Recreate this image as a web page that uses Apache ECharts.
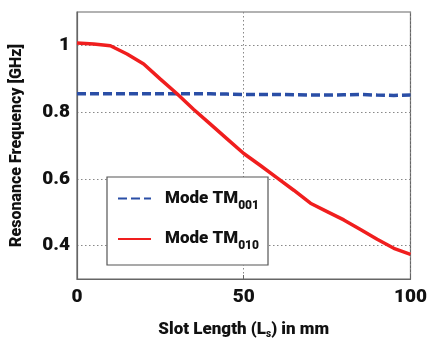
<!DOCTYPE html>
<html><head><meta charset="utf-8">
<script src="https://cdn.jsdelivr.net/npm/echarts@6/dist/echarts.min.js"></script>
<style>html,body{margin:0;padding:0;background:#fff}#c{width:430px;height:344px}</style>
</head><body><div id="c"></div>
<script>
const slotLength = [0,5,10,15,20,25,30,35,40,45,50,55,60,65,70,75,80,85,90,95,100];
const modeTM001 = [0.855,0.855,0.855,0.855,0.855,0.855,0.855,0.855,0.855,0.854,0.853,0.853,0.853,0.852,0.851,0.851,0.852,0.853,0.851,0.850,0.851];
const modeTM010 = [1.007,1.004,0.999,0.974,0.944,0.899,0.855,0.808,0.764,0.720,0.676,0.640,0.603,0.566,0.527,0.502,0.477,0.448,0.419,0.392,0.374];
const yTickLabels = ['0.4','0.6','0.8','1'];
const xTickLabels = ['0','50','100'];
const FONT = 'Roboto, "Liberation Sans", sans-serif';
const FW = 900;

const chart = echarts.init(document.getElementById('c'), null, {renderer:'canvas'});
chart.setOption({
  animation:false,
  backgroundColor:'#fff',
  grid:{left:77,right:10,top:12,bottom:57,show:true,borderColor:'#666',borderWidth:1.2,backgroundColor:'transparent'},
  legend:{
    orient:'vertical', left:107, top:177,
    padding:[13,9,13,10], itemGap:19,
    backgroundColor:'#fff', borderColor:'#555', borderWidth:1.2,
    itemWidth:33, itemHeight:14,
    itemStyle:{opacity:0},
    data:['Mode TM001','Mode TM010'],
    formatter: n => '{a|Mode TM}{b|' + n.slice(7) + '}',
    textStyle:{ rich:{
      a:{fontFamily:FONT,fontWeight:FW,fontSize:17,color:'#111',padding:[0,0,0,9]},
      b:{fontFamily:FONT,fontWeight:FW,fontSize:12,color:'#111',padding:[14,0,0,0]}
    }}
  },
  xAxis:{
    type:'value', min:0, max:100, interval:50,
    name:'Slot Length (L{s|s}) in mm', nameLocation:'middle', nameGap:42,
    nameTextStyle:{fontFamily:FONT,fontWeight:FW,fontSize:17,color:'#111',
      rich:{s:{fontFamily:FONT,fontWeight:FW,fontSize:10,color:'#111',padding:[8,0,0,0]}}},
    axisLine:{show:true,lineStyle:{color:'#666',width:1.2}},
    axisTick:{show:true,inside:true,length:4,lineStyle:{color:'#666'}},
    axisLabel:{fontFamily:FONT,fontWeight:FW,fontSize:19,color:'#111',margin:9,
      formatter:v=>xTickLabels[Math.round(v/50)]},
    splitLine:{show:true,lineStyle:{color:'#888',type:[1.5,2.5],width:1}}
  },
  yAxis:{
    type:'value', min:0.3, max:1.1, interval:0.1,
    name:'Resonance Frequency [GHz]', nameLocation:'middle', nameGap:52, nameRotate:90,
    nameTextStyle:{fontFamily:FONT,fontWeight:FW,fontSize:16,color:'#111'},
    axisLine:{show:true,lineStyle:{color:'#666',width:1.2}},
    axisTick:{show:false},
    axisLabel:{fontFamily:FONT,fontWeight:FW,fontSize:19,color:'#111',margin:7,
      formatter:v=>{const k=Math.round(v*10); return (k%2===0 && k>=4 && k<=10)? yTickLabels[(k-4)/2] : '';}},
    splitLine:{show:true,lineStyle:{color:['rgba(0,0,0,0)','#888'],type:[1.5,2.5],width:1}}
  },
  series:[
    {name:'Mode TM001',type:'line',symbol:'none',data:slotLength.map((x,i)=>[x,modeTM001[i]]),
     lineStyle:{color:'#2a4ea6',width:3.5,type:[9,4]},itemStyle:{color:'#2a4ea6'},z:3},
    {name:'Mode TM010',type:'line',symbol:'none',data:slotLength.map((x,i)=>[x,modeTM010[i]]),
     lineStyle:{color:'#f01e1e',width:3.5},itemStyle:{color:'#f01e1e'},z:4}
  ]
});
</script></body></html>
